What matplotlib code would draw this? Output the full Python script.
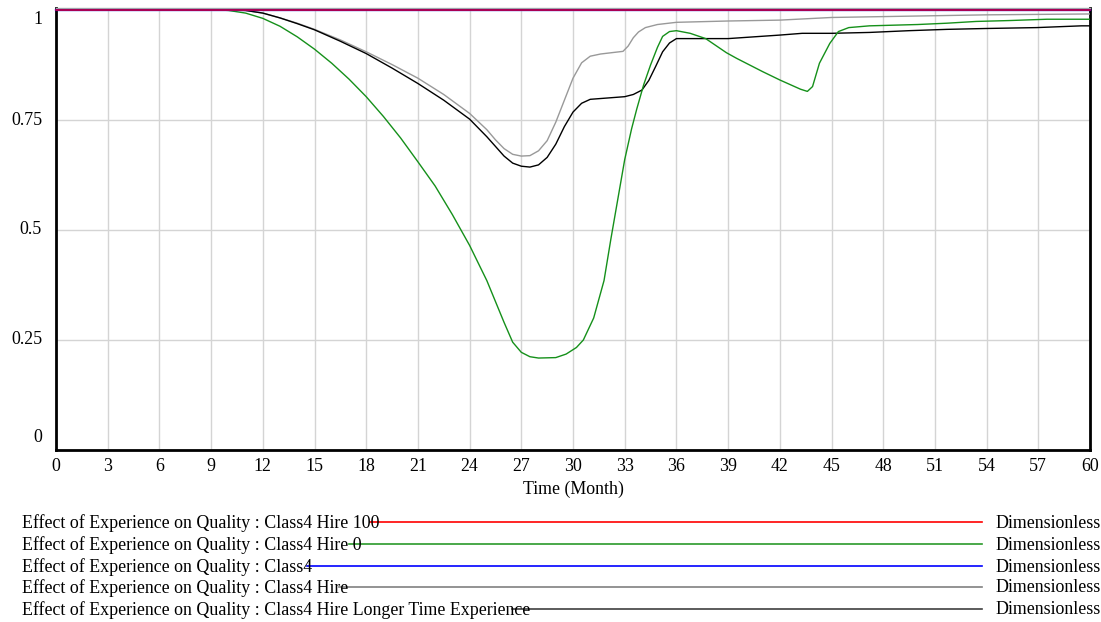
import matplotlib
matplotlib.use("Agg")
import matplotlib.pyplot as plt
from matplotlib.lines import Line2D

plt.rcParams['font.family'] = ['Liberation Serif', 'DejaVu Serif']

# ---- data ----
t_flat = [0, 60]
hire100 = [1.0, 1.0]
class4 = [1.0, 1.0]

t_gray = [0, 10, 11, 12, 13, 14, 15, 16.5, 18, 19.5, 21, 22.5, 24, 25, 25.5, 26, 26.5,
          27, 27.5, 28, 28.5, 29, 29.5, 30, 30.5, 31, 31.6, 32.9, 33.2, 33.5, 33.8,
          34.2, 34.9, 36, 39, 42, 45, 48, 51, 54, 57, 60]
hire = [1.0, 1.0, 0.999, 0.993, 0.982, 0.970, 0.956, 0.932, 0.905, 0.876, 0.845, 0.808,
        0.765, 0.728, 0.705, 0.685, 0.672, 0.668, 0.669, 0.680, 0.703, 0.745, 0.795,
        0.845, 0.880, 0.895, 0.900, 0.906, 0.918, 0.937, 0.950, 0.960, 0.967, 0.972,
        0.975, 0.977, 0.983, 0.985, 0.987, 0.989, 0.990, 0.991]

t_black = [0, 10, 11, 12, 13, 14, 15, 16.5, 18, 19.5, 21, 22.5, 24, 25, 25.5, 26, 26.5,
           27, 27.5, 28, 28.5, 29, 29.5, 30, 30.5, 31, 32, 33, 33.5, 34, 34.4, 34.8,
           35.2, 35.6, 36, 39, 42, 43.3, 45, 47.2, 49.5, 51.7, 54, 56.9, 59.5, 60]
longer = [1.0, 1.0, 0.999, 0.993, 0.982, 0.969, 0.955, 0.929, 0.901, 0.868, 0.833, 0.795,
          0.752, 0.712, 0.690, 0.668, 0.652, 0.645, 0.643, 0.648, 0.665, 0.695, 0.735,
          0.768, 0.788, 0.797, 0.800, 0.803, 0.808, 0.818, 0.840, 0.872, 0.905, 0.925,
          0.935, 0.935, 0.943, 0.947, 0.947, 0.949, 0.953, 0.956, 0.958, 0.960, 0.964,
          0.964]

t_green = [0, 9.5, 10, 11, 12, 13, 14, 15, 16, 17, 18, 19, 20, 21, 22, 23, 24, 25, 26,
           26.5, 27, 27.5, 28, 29, 29.6, 30.2, 30.6, 31.2, 31.8, 32.2, 32.6, 33.0, 33.4,
           33.7, 34.1, 34.5, 34.9, 35.2, 35.6, 36, 36.8, 37.7, 38.9, 39.5, 41, 42, 43.2,
           43.6, 43.9, 44.3, 44.9, 45.4, 46, 47.2, 50, 51.7, 53.4, 55.3, 57.5, 60]
hire0 = [1.0, 1.0, 0.999, 0.993, 0.981, 0.963, 0.939, 0.911, 0.879, 0.843, 0.803, 0.758,
         0.709, 0.655, 0.600, 0.535, 0.465, 0.385, 0.290, 0.245, 0.222, 0.212, 0.209,
         0.210, 0.218, 0.233, 0.250, 0.300, 0.385, 0.480, 0.570, 0.660, 0.730, 0.775,
         0.830, 0.875, 0.915, 0.940, 0.951, 0.953, 0.947, 0.935, 0.903, 0.890, 0.860,
         0.841, 0.820, 0.815, 0.826, 0.879, 0.924, 0.951, 0.960, 0.964, 0.967, 0.970,
         0.974, 0.976, 0.979, 0.979]

legend_labels = [
    "Effect of Experience on Quality : Class4 Hire 100",
    "Effect of Experience on Quality : Class4 Hire 0",
    "Effect of Experience on Quality : Class4",
    "Effect of Experience on Quality : Class4 Hire",
    "Effect of Experience on Quality : Class4 Hire Longer Time Experience",
]
units = "Dimensionless"
x_ticks = list(range(0, 61, 3))
y_ticks = [0, 0.25, 0.5, 0.75, 1]
y_ticklabels = ["0", "0.25", "0.5", "0.75", "1"]

# ---- figure ----
W, H = 1101, 622
FS = 12.9
fig = plt.figure(figsize=(W / 100, H / 100), dpi=100)
ax = fig.add_axes([56 / W, (H - 450) / H, (1090 - 56) / W, (450 - 8) / H])

col_red, col_green, col_blue, col_gray, col_black = '#ff0000', '#15901a', '#0000ff', '#999999', '#000000'
leg_cols = ['#ff0000', '#2a9a2a', '#0000ff', '#808080', '#404040']

ax.plot(t_gray, hire, color=col_gray, lw=1.0, zorder=3)
ax.plot(t_black, longer, color=col_black, lw=1.0, zorder=4)
ax.plot(t_green, hire0, color=col_green, lw=1.0, zorder=5)
ax.plot(t_flat, class4, color=col_blue, lw=1.6, zorder=6, clip_on=False)
ax.plot(t_flat, hire100, color=col_red, lw=1.2, alpha=0.8, zorder=7, clip_on=False)

ax.set_xlim(0, 60)
ax.set_ylim(0, 1 + 2 / 440)
ax.set_xticks(x_ticks)
ax.set_xticklabels([str(v) for v in x_ticks])
ax.set_yticks(y_ticks)
ax.set_yticklabels([])
ax.tick_params(axis='both', length=0, labelsize=FS, colors='#000000')
ax.tick_params(axis='x', pad=5.5)
y_shift = [12, 0, 0, 0, -10]
for yv, lab, dy in zip(y_ticks, y_ticklabels, y_shift):
    ax.annotate(lab, xy=(0, yv), xycoords=('axes fraction', 'data'),
                xytext=(-14, dy), textcoords='offset pixels',
                ha='right', va='center', fontsize=FS)

ax.grid(True, color='#d4d4d4', lw=1.0)
ax.set_axisbelow(True)
for s in ['left', 'bottom', 'right']:
    ax.spines[s].set_color('#000000')
    ax.spines[s].set_linewidth(2.0)
ax.spines['top'].set_color('#b4b8a8')
ax.spines['top'].set_linewidth(1.0)

ax.set_xlabel("Time (Month)", fontsize=FS, labelpad=4)

# ---- legend ----
rows_y = [523, 545, 567, 588, 610]
start_off = [9, 13, 5, 9, 18]
texts = []
for lab, yy in zip(legend_labels, rows_y):
    texts.append(fig.text(22 / W, (H - yy) / H, lab, fontsize=FS, va='center', ha='left'))
    fig.text(995 / W, (H - yy) / H, units, fontsize=FS, va='center', ha='left')
fig.canvas.draw()
r = fig.canvas.get_renderer()
for tx, yy, c, off in zip(texts, rows_y, leg_cols, start_off):
    bb = tx.get_window_extent(renderer=r)
    x0 = bb.x1 - off
    fig.add_artist(Line2D([x0 / W, 982 / W], [(H - yy + 1) / H, (H - yy + 1) / H],
                          transform=fig.transFigure, color=c, lw=1.2))

fig.savefig("out.png", dpi=100)
